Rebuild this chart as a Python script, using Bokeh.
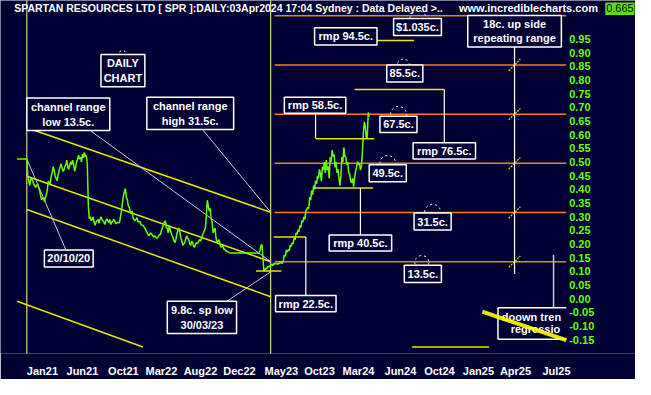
from bokeh.plotting import figure
from bokeh.models import Range1d, FixedTicker
from bokeh.embed import file_html
from bokeh.resources import INLINE
from bokeh.core.properties import value

# ---------------- data ----------------
# x axis: chart bar-slot index (0..651), y: price in dollars
x_tick_pos = [43, 84, 126, 165, 205, 245, 288, 327, 367, 410, 450, 490, 528, 570]
x_tick_labels = ["Jan21", "Jun21", "Oct21", "Mar22", "Aug22", "Dec22", "May23",
                 "Oct23", "Mar24", "Jun24", "Oct24", "Jan25", "Apr25", "Jul25"]
y_ticks = [0.95, 0.90, 0.85, 0.80, 0.75, 0.70, 0.65, 0.60, 0.55, 0.50, 0.45, 0.40,
           0.35, 0.30, 0.25, 0.20, 0.15, 0.10, 0.05, 0.00, -0.05, -0.10, -0.15]
y_tick_labels = ["0.95", "0.90", "0.85", "0.80", "0.75", "0.70", "0.65", "0.60", "0.55",
                 "0.50", "0.45", "0.40", "0.35", "0.30", "0.25", "0.20", "0.15", "0.10",
                 "0.05", "0.00", "-0.05", "-0.10", "-0.15"]
y_label_x = 583
plot_right = 580

price_x = [17, 27, 28, 29, 30, 31, 33, 34, 36, 38, 40, 41, 42, 44, 45, 46, 47, 48, 49, 51,
           52, 53, 54, 55, 56, 57, 58, 59, 60, 61, 62, 63, 64, 65, 66, 67, 68, 69, 70, 71,
           72, 73, 74, 75, 76, 77, 78, 79, 80, 81, 82, 83, 84, 85, 86, 87, 88, 89, 90, 91,
           92, 93, 94, 95, 96, 97, 98, 99, 100, 101, 102, 103, 104, 105, 106, 107, 108, 109, 110, 111,
           112, 113, 114, 115, 116, 117, 118, 119, 120, 121, 122, 123, 124, 125, 126, 127, 128, 129, 130, 131,
           132, 133, 134, 135, 136, 137, 138, 140, 141, 143, 144, 146, 148, 150, 152, 154, 155, 157, 158, 160,
           161, 163, 164, 165, 166, 167, 168, 169, 170, 171, 172, 173, 174, 175, 176, 177, 178, 179, 180, 181,
           182, 183, 184, 185, 186, 187, 188, 189, 190, 191, 192, 193, 194, 195, 196, 197, 198, 199, 200, 201,
           202, 204, 205, 207, 208, 210, 211, 212, 213, 214, 215, 216, 217, 218, 219, 220, 221, 222, 223, 224,
           225, 226, 227, 228, 229, 230, 231, 233, 235, 250, 265, 266, 267, 268, 269, 270, 271, 272, 273, 274,
           275, 276, 278, 279, 280, 281, 282, 284, 285, 286, 287, 288, 289, 290, 291, 292, 293, 294, 295, 296,
           297, 298, 299, 300, 301, 302, 303, 304, 305, 306, 307, 308, 309, 310, 311, 312, 313, 314, 315, 316,
           317, 318, 319, 320, 321, 322, 323, 324, 325, 326, 327, 328, 329, 330, 331, 332, 333, 334, 335, 336,
           337, 338, 339, 340, 341, 342, 343, 344, 345, 346, 347, 348, 349, 350, 351, 352, 353, 354, 355, 356,
           357, 358, 359, 360, 361, 362, 363, 364, 365, 366, 367, 368, 369, 370, 371, 372, 373, 374, 375, 376,
           377, 378]
price_y = [0.511, 0.511, 0.449, 0.430, 0.414, 0.440, 0.431, 0.420, 0.407, 0.420, 0.396, 0.380, 0.362, 0.370, 0.355, 0.370, 0.379, 0.400, 0.430, 0.420,
           0.449, 0.460, 0.483, 0.470, 0.449, 0.440, 0.431, 0.450, 0.466, 0.480, 0.494, 0.480, 0.466, 0.470, 0.483, 0.490, 0.507, 0.480, 0.473, 0.490,
           0.501, 0.490, 0.507, 0.490, 0.466, 0.480, 0.501, 0.510, 0.525, 0.510, 0.518, 0.500, 0.528, 0.515, 0.535, 0.520, 0.525, 0.490, 0.345, 0.292,
           0.300, 0.285, 0.290, 0.299, 0.280, 0.268, 0.280, 0.285, 0.290, 0.275, 0.290, 0.299, 0.290, 0.285, 0.280, 0.271, 0.285, 0.292, 0.285, 0.278,
           0.290, 0.271, 0.280, 0.282, 0.290, 0.285, 0.275, 0.275, 0.280, 0.278, 0.278, 0.300, 0.320, 0.350, 0.376, 0.390, 0.403, 0.370, 0.362, 0.340,
           0.334, 0.320, 0.310, 0.320, 0.292, 0.290, 0.285, 0.296, 0.280, 0.282, 0.270, 0.268, 0.258, 0.244, 0.230, 0.240, 0.237, 0.225, 0.230, 0.222,
           0.222, 0.235, 0.233, 0.250, 0.258, 0.270, 0.280, 0.285, 0.260, 0.258, 0.240, 0.268, 0.250, 0.240, 0.230, 0.222, 0.210, 0.205, 0.220, 0.240,
           0.250, 0.258, 0.240, 0.222, 0.210, 0.195, 0.200, 0.205, 0.220, 0.230, 0.220, 0.216, 0.200, 0.195, 0.210, 0.205, 0.190, 0.188, 0.200, 0.205,
           0.200, 0.216, 0.210, 0.230, 0.240, 0.258, 0.300, 0.360, 0.340, 0.320, 0.330, 0.292, 0.280, 0.240, 0.250, 0.258, 0.220, 0.205, 0.210, 0.216,
           0.200, 0.188, 0.190, 0.195, 0.180, 0.181, 0.175, 0.171, 0.167, 0.167, 0.167, 0.175, 0.195, 0.198, 0.150, 0.101, 0.105, 0.112, 0.108, 0.118,
           0.115, 0.120, 0.125, 0.120, 0.129, 0.125, 0.130, 0.125, 0.130, 0.128, 0.136, 0.130, 0.129, 0.140, 0.160, 0.155, 0.178, 0.170, 0.180, 0.175,
           0.195, 0.190, 0.205, 0.200, 0.222, 0.215, 0.240, 0.235, 0.251, 0.245, 0.268, 0.260, 0.285, 0.280, 0.299, 0.290, 0.320, 0.325, 0.334, 0.330,
           0.372, 0.360, 0.396, 0.380, 0.414, 0.400, 0.431, 0.420, 0.449, 0.440, 0.473, 0.456, 0.430, 0.483, 0.470, 0.500, 0.460, 0.507, 0.470, 0.483,
           0.440, 0.518, 0.500, 0.543, 0.520, 0.528, 0.480, 0.500, 0.460, 0.473, 0.440, 0.413, 0.450, 0.518, 0.500, 0.553, 0.520, 0.518, 0.490, 0.500,
           0.460, 0.456, 0.430, 0.424, 0.440, 0.410, 0.440, 0.466, 0.480, 0.501, 0.490, 0.494, 0.470, 0.483, 0.535, 0.605, 0.647, 0.630, 0.588, 0.590,
           0.681, 0.665]

# repeating range levels (orange)
level_vals = [1.035, 0.855, 0.675, 0.495, 0.315, 0.135]
level_x0 = 281
slash_levels = [0.855, 0.675, 0.495, 0.315, 0.135]
range_line_x = 527

# channel lines: x0, y0, x1, y1
chan_x0 = [27, 27, 27, 17]
chan_y0 = [0.625, 0.448, 0.326, -0.010]
chan_x1 = [277, 277, 277, 146]
chan_y1 = [0.316, 0.135, 0.007, -0.177]

# pointer lines (grey)
ptr_x0 = [92, 207, 67, 232]
ptr_y0 = [0.615, 0.619, 0.178, -0.010]
ptr_x1 = [277, 277, 27, 277]
ptr_y1 = [0.135, 0.316, 0.511, 0.098]

# rmp horizontal yellow marks
rmp_x0 = [338, 363, 323, 321, 280, 262, 422]
rmp_x1 = [424, 455, 383, 382, 313, 288, 501]
rmp_y = [0.945, 0.765, 0.585, 0.405, 0.225, 0.101, -0.177]

# white connectors (vertical)
con_x = [455, 323, 369, 313, 527]
con_y0 = [0.765, 0.678, 0.405, 0.225, 0.921]
con_y1 = [0.570, 0.587, 0.233, 0.011, 0.090]

# dashed circle marks
mark_x = [428, 413, 408, 397, 443, 432, 125]
mark_y = [1.025, 0.855, 0.674, 0.494, 0.316, 0.132, 0.893]
mark_size = [16, 12, 16, 16, 16, 14, 8]

# annotation boxes
box_left = [103, 27, 150, 45, 171, 282, 337, 414, 424, 378, 389, 423, 291, 396, 322, 403, 479]
box_right = [148, 112, 239, 95, 242, 344, 401, 452, 462, 416, 427, 487, 354, 433, 386, 452, 575]
box_top = [0.893, 0.734, 0.737, 0.178, -0.010, 0.011, 0.233, 0.122, 0.313, 0.490, 0.667, 0.570, 0.737, 0.855, 0.991, 1.025, 1.036]
box_bottom = [0.775, 0.615, 0.619, 0.116, -0.128, -0.048, 0.174, 0.059, 0.251, 0.428, 0.608, 0.511, 0.678, 0.793, 0.928, 0.963, 0.921]
box_line1 = ["DAILY", "channel range", "channel range", "20/10/20", "9.8c. sp low", "rmp 22.5c.",
             "rmp 40.5c.", "13.5c.", "31.5c.", "49.5c.", "67.5c.", "rmp 76.5c.", "rmp 58.5c.",
             "85.5c.", "rmp 94.5c.", "$1.035c.", "18c. up side"]
box_line2 = ["CHART", "low 13.5c.", "high 31.5c.", "", "30/03/23", "", "", "", "", "", "", "", "",
             "", "", "", "repeating range"]

# the regression box is cut by the right edge of the plot
reg_box = [510, 580, -0.034, -0.149]          # left, right, top, bottom
reg_text = ["doown tren", "regressio"]
reg_text_x = [514, 523]
reg_text_y = [-0.068, -0.113]

# regression band and grey pointer to it
reg_x = [494, 580]
reg_y = [-0.048, -0.152]
reg_ptr_x = 567
reg_ptr_y = [0.160, -0.034]

title_text = "SPARTAN RESOURCES LTD [ SPR ]:DAILY:03Apr2024 17:04 Sydney : Data Delayed >.."
site_text = "www.incrediblecharts.com"
last_price = "0.665"
header_y = 1.063
last_box = [620, 650, 1.084, 1.038]

# ---------------- styling ----------------
BG = "#000033"
GREEN = "#66ff00"
YEL = "#e6e600"
PALE = "#ffff99"
ORANGE = "#f08020"
GREY = "#c8c8e0"
FONT = value("Liberation Sans")

p = figure(width=635, height=379, output_backend="svg", toolbar_location=None,
           x_range=Range1d(0, 651), y_range=Range1d(-0.201, 1.091),
           y_axis_location=None,
           min_border_left=0, min_border_right=0, min_border_top=0, min_border_bottom=22,
           background_fill_color=BG, border_fill_color=BG, outline_line_color=None)
p.grid.visible = False

xa = p.xaxis[0]
xa.ticker = FixedTicker(ticks=x_tick_pos)
xa.major_label_overrides = {k: v for k, v in zip(x_tick_pos, x_tick_labels)}
xa.axis_line_color = None
xa.major_tick_line_color = None
xa.minor_tick_line_color = None
xa.major_label_text_color = "white"
xa.major_label_text_font = "Liberation Sans"
xa.major_label_text_font_style = "bold"
xa.major_label_text_font_size = "11px"
xa.major_label_standoff = 5

# vertical pale yellow lines
p.segment(x0=[27, 277], y0=[-0.3, -0.3], x1=[27, 277], y1=[1.2, 1.2], line_color=PALE, line_width=1)

# orange levels
p.segment(x0=[level_x0] * len(level_vals), y0=level_vals, x1=[plot_right] * len(level_vals), y1=level_vals,
          line_color=ORANGE, line_width=1.5)

# channel lines
p.segment(x0=chan_x0, y0=chan_y0, x1=chan_x1, y1=chan_y1, line_color=YEL, line_width=1.5)

# pointer lines
p.segment(x0=ptr_x0, y0=ptr_y0, x1=ptr_x1, y1=ptr_y1, line_color=GREY, line_width=1)

# price
p.line(price_x, price_y, line_color=GREEN, line_width=1.5)

# rmp marks
p.segment(x0=rmp_x0, y0=rmp_y, x1=rmp_x1, y1=rmp_y, line_color=YEL, line_width=1.5)

# connectors
p.segment(x0=con_x, y0=con_y0, x1=con_x, y1=con_y1, line_color="white", line_width=1.2)

# slash marks on range line
p.segment(x0=[range_line_x - 6] * len(slash_levels), y0=[v - 0.021 for v in slash_levels],
          x1=[range_line_x + 6] * len(slash_levels), y1=[v + 0.021 for v in slash_levels],
          line_color=YEL, line_width=1.2, line_dash="2 1")

# dashed circles
p.scatter(mark_x, mark_y, size=mark_size, marker="circle", fill_color=None,
          line_color="white", line_width=1, line_dash="2 3")

# grey pointer to regression box
p.segment(x0=[reg_ptr_x], y0=[reg_ptr_y[0]], x1=[reg_ptr_x], y1=[reg_ptr_y[1]], line_color=GREY, line_width=1.5)

# boxes
p.quad(left=box_left, right=box_right, top=box_top, bottom=box_bottom,
       fill_color=BG, line_color="white", line_width=1.5)

tx, ty, tt = [], [], []
for l, r, t, b, s1, s2 in zip(box_left, box_right, box_top, box_bottom, box_line1, box_line2):
    cx = (l + r) / 2
    cy = (t + b) / 2
    h = t - b
    if s2:
        tx += [cx, cx]
        ty += [cy + 0.23 * h, cy - 0.23 * h]
        tt += [s1, s2]
    else:
        tx.append(cx)
        ty.append(cy)
        tt.append(s1)
p.text(tx, ty, text=tt, text_color="white", text_font=FONT, text_font_style="bold",
       text_font_size="11px", text_align="center", text_baseline="middle")

# regression box (open on the right, cut by the plot edge)
rl, rr, rt, rb = reg_box
p.quad(left=[rl], right=[rr], top=[rt], bottom=[rb], fill_color=BG, line_color=None)
p.segment(x0=[rl, rl, rl], y0=[rt, rb, rt], x1=[rr, rr, rl], y1=[rt, rb, rb],
          line_color="white", line_width=1.5)
p.text(reg_text_x, reg_text_y, text=reg_text, text_color="white", text_font=FONT,
       text_font_style="bold", text_font_size="11px", text_align="left", text_baseline="middle")

# regression band on top
p.line(reg_x, reg_y, line_color="#ffff00", line_width=4, alpha=0.9)

# y tick labels (right side)
p.text([y_label_x] * len(y_ticks), y_ticks, text=y_tick_labels, text_color=GREEN, text_font=FONT,
       text_font_style="bold", text_font_size="11px", text_align="left", text_baseline="middle")

# header texts
p.text([14], [header_y], text=[title_text], text_color="white", text_font=FONT,
       text_font_style="bold", text_font_size="10.5px", text_align="left", text_baseline="middle")
p.text([470], [header_y], text=[site_text], text_color="white", text_font=FONT,
       text_font_style="bold", text_font_size="11px", text_align="left", text_baseline="middle")
p.quad(left=[last_box[0]], right=[last_box[1]], top=[last_box[2]], bottom=[last_box[3]],
       fill_color="#5fdf00", line_color=None)
p.text([(last_box[0] + last_box[1]) / 2], [header_y], text=[last_price], text_color=BG, text_font=FONT,
       text_font_size="11px", text_align="center", text_baseline="middle")

open("out.html", "w").write(file_html(p, INLINE))
